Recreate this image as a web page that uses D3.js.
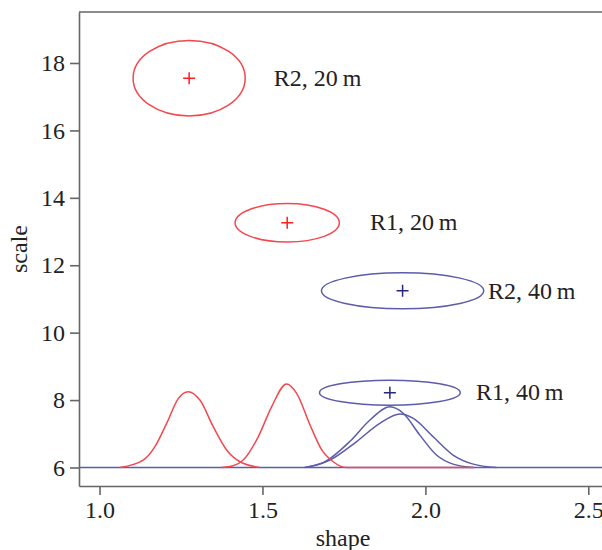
<!DOCTYPE html>
<html lang="en">
<head>
  <meta charset="UTF-8">
  <title>shape vs scale</title>
  <script src="https://d3js.org/d3.v7.min.js"></script>
  <style>
    body { margin: 0; background: #fff; }
    svg text { font-family: "Liberation Serif", "Times New Roman", serif; fill: #222; }
    .axis path, .axis line { stroke: #666; stroke-width: 1.6px; }
    .axis text { font-size: 24px; }
  </style>
</head>
<body>
  <svg id="chart" width="602" height="550"></svg>

  <script>
    // ellipses: centre (shape, scale) and half-widths
    const ellipseLabels = ["R2, 20\u2009m", "R1, 20\u2009m", "R2, 40\u2009m", "R1, 40\u2009m"];
    const ellipseSpacing = ["20 m", "20 m", "40 m", "40 m"];
    const centreShape = [1.275, 1.576, 1.930, 1.891];
    const centreScale = [17.55, 13.26, 11.24, 8.22];
    const halfShape = [0.172, 0.160, 0.249, 0.216];
    const halfScale = [1.12, 0.57, 0.534, 0.37];
    const labelShape = [1.535, 1.830, 2.192, 2.155];

    // density curves drawn on the scale = 6 baseline
    const red1Shape = [1.063, 1.134, 1.170, 1.206, 1.242, 1.272, 1.308, 1.349, 1.390, 1.431, 1.492];
    const red1Scale = [6.0, 6.22, 6.62, 7.31, 8.05, 8.25, 8.0, 7.21, 6.52, 6.17, 6.0];
    const red2Shape = [1.375, 1.410, 1.441, 1.487, 1.528, 1.574, 1.605, 1.646, 1.682, 1.717, 1.758, 2.150];
    const red2Scale = [6.0, 6.05, 6.22, 6.91, 7.80, 8.48, 8.20, 7.26, 6.52, 6.17, 6.0, 6.0];
    const blue1Shape = [1.630, 1.692, 1.768, 1.830, 1.891, 1.932, 1.983, 2.034, 2.085, 2.147];
    const blue1Scale = [6.0, 6.17, 6.77, 7.41, 7.80, 7.61, 6.96, 6.37, 6.10, 6.0];
    const blue2Shape = [1.630, 1.707, 1.789, 1.860, 1.922, 1.963, 2.024, 2.085, 2.147, 2.218];
    const blue2Scale = [6.0, 6.22, 6.77, 7.31, 7.59, 7.46, 6.91, 6.37, 6.10, 6.0];

    const xTicks = [1.0, 1.5, 2.0, 2.5];
    const yTicks = [6, 8, 10, 12, 14, 16, 18];
    const baseline = 6;

    const width = 602;
    const height = 550;
    const plot = { left: 79, right: 602, top: 12, bottom: 486 };

    const svg = d3.select("#chart");

    const x = d3.scaleLinear().domain([0.937, 2.542]).range([plot.left, plot.right]);
    const y = d3.scaleLinear().domain([5.451, 19.513]).range([plot.bottom, plot.top]);

    const lineColour = d3.scaleOrdinal().domain(["20 m", "40 m"]).range(["#f2484e", "#5c5caa"]);
    const crossColour = d3.scaleOrdinal().domain(["20 m", "40 m"]).range(["#ff1f1f", "#27277f"]);

    // frame: top line, left and bottom axes
    svg.append("line")
      .attr("x1", plot.left).attr("x2", plot.right)
      .attr("y1", plot.top).attr("y2", plot.top)
      .attr("stroke", "#666").attr("stroke-width", 1.6);

    svg.append("g")
      .attr("class", "axis")
      .attr("transform", `translate(${plot.left},0)`)
      .call(d3.axisLeft(y).tickValues(yTicks).tickFormat(d3.format("d")).tickSize(9).tickPadding(5).tickSizeOuter(0));

    svg.append("g")
      .attr("class", "axis")
      .attr("transform", `translate(0,${plot.bottom})`)
      .call(d3.axisBottom(x).tickValues(xTicks).tickFormat(d3.format(".1f")).tickSize(9).tickPadding(6).tickSizeOuter(0));

    // axis titles
    svg.append("text")
      .attr("x", 343)
      .attr("y", height - 4)
      .attr("text-anchor", "middle")
      .attr("font-size", 24)
      .text("shape");

    svg.append("text")
      .attr("transform", `translate(27,249) rotate(-90)`)
      .attr("text-anchor", "middle")
      .attr("font-size", 24)
      .text("scale");

    const g = svg.append("g");

    // baseline
    g.append("line")
      .attr("x1", plot.left).attr("x2", plot.right)
      .attr("y1", y(baseline)).attr("y2", y(baseline))
      .attr("stroke", lineColour("40 m")).attr("stroke-width", 1.5);

    const line = d3.line()
      .x(d => x(d[0]))
      .y(d => y(d[1]))
      .curve(d3.curveMonotoneX);

    const curves = [
      { shape: blue1Shape, scale: blue1Scale, spacing: "40 m" },
      { shape: blue2Shape, scale: blue2Scale, spacing: "40 m" },
      { shape: red1Shape, scale: red1Scale, spacing: "20 m" },
      { shape: red2Shape, scale: red2Scale, spacing: "20 m" }
    ];

    curves.forEach(c => {
      g.append("path")
        .datum(d3.zip(c.shape, c.scale))
        .attr("fill", "none")
        .attr("stroke", lineColour(c.spacing))
        .attr("stroke-width", 1.5)
        .attr("d", line);
    });

    // ellipses with centre crosses and labels
    ellipseLabels.forEach((label, i) => {
      const cx = x(centreShape[i]);
      const cy = y(centreScale[i]);
      g.append("ellipse")
        .attr("cx", cx)
        .attr("cy", cy)
        .attr("rx", x(centreShape[i] + halfShape[i]) - cx)
        .attr("ry", cy - y(centreScale[i] + halfScale[i]))
        .attr("fill", "none")
        .attr("stroke", lineColour(ellipseSpacing[i]))
        .attr("stroke-width", 1.5);

      const arm = 6;
      g.append("path")
        .attr("d", `M${cx - arm},${cy}H${cx + arm}M${cx},${cy - arm}V${cy + arm}`)
        .attr("stroke", crossColour(ellipseSpacing[i]))
        .attr("stroke-width", 1.5);

      g.append("text")
        .attr("x", x(labelShape[i]))
        .attr("y", cy)
        .attr("dy", "0.32em")
        .attr("font-size", 24)
        .text(label);
    });
  </script>
</body>
</html>
